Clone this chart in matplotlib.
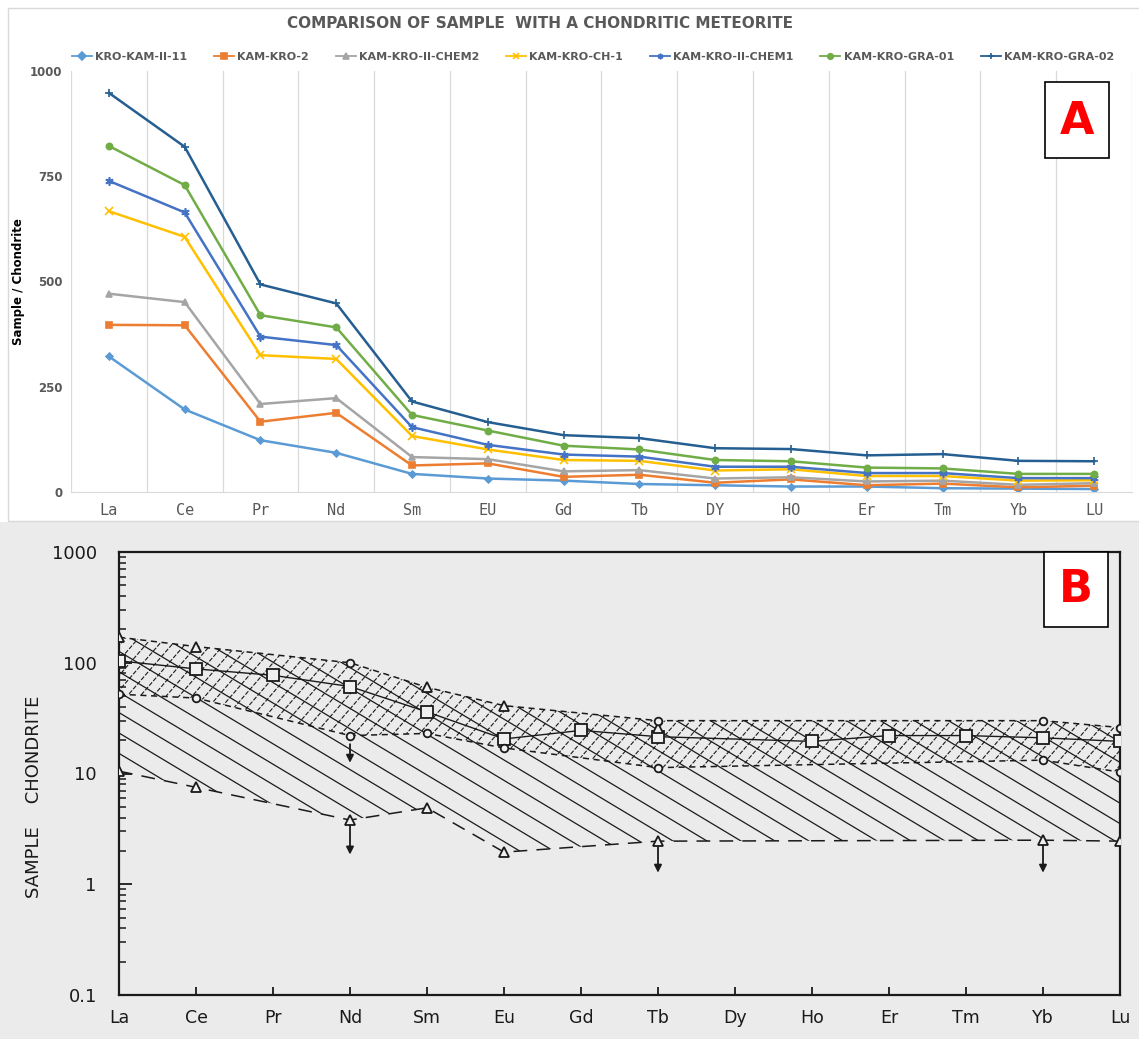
import numpy as np
import matplotlib
matplotlib.use("Agg")
import matplotlib.pyplot as plt
from matplotlib.patches import Rectangle, Polygon
from matplotlib.collections import LineCollection

# ---------------- Panel A data ----------------
elements_a = ['La', 'Ce', 'Pr', 'Nd', 'Sm', 'EU', 'Gd', 'Tb', 'DY', 'HO', 'Er', 'Tm', 'Yb', 'LU']
series_names = ['KRO-KAM-II-11', 'KAM-KRO-2', 'KAM-KRO-II-CHEM2', 'KAM-KRO-CH-1',
                'KAM-KRO-II-CHEM1', 'KAM-KRO-GRA-01', 'KAM-KRO-GRA-02']
kro_kam_ii_11 = [322, 196, 123, 93, 43, 32, 27, 19, 16, 13, 13, 9, 8, 7]
kam_kro_2 = [397, 396, 167, 188, 63, 68, 36, 41, 22, 30, 16, 20, 11, 15]
kam_kro_ii_chem2 = [471, 451, 209, 223, 83, 78, 49, 52, 32, 35, 25, 27, 17, 21]
kam_kro_ch_1 = [667, 606, 325, 316, 133, 101, 76, 74, 51, 54, 38, 38, 27, 28]
kam_kro_ii_chem1 = [739, 664, 369, 349, 154, 112, 89, 84, 60, 60, 45, 45, 33, 33]
kam_kro_gra_01 = [822, 729, 420, 391, 183, 146, 110, 101, 76, 73, 58, 56, 43, 43]
kam_kro_gra_02 = [948, 820, 493, 448, 215, 166, 135, 128, 104, 102, 87, 90, 74, 73]
a_yticks = [0, 250, 500, 750, 1000]

# ---------------- Panel B data ----------------
elements_b = ['La', 'Ce', 'Pr', 'Nd', 'Sm', 'Eu', 'Gd', 'Tb', 'Dy', 'Ho', 'Er', 'Tm', 'Yb', 'Lu']
N = None
upper_env = [170, 140, N, 100, 60, 41, N, 30, N, N, N, N, 30, 26]
lower_env = [52, 48, N, 22, 23, 17, N, 11.3, N, N, N, N, 13.2, 10.3]
squares = [104, 88, 77, 61, 36, 20.5, 24.5, 21.5, N, 19.5, 22, 22, 21, 19.5]
lower_tri = [10.5, 7.5, N, 3.8, 4.9, 1.95, N, 2.45, N, N, N, N, 2.5, 2.45]
upper_tri = [170, 140, N, N, 60, 41, N, 26, N, N, N, N, N, N]
upper_circ = [N, N, N, 100, N, N, N, 30, N, N, N, N, 30, 26]
lower_circ = [52, 48, N, 22, 23, 17, N, 11.3, N, N, N, N, 13.2, 10.3]
# arrows: (element index, start value, end value)
arrow_idx = [3, 3, 7, 12]
arrow_from = [3.6, 19.5, 2.3, 2.35]
arrow_to = [1.75, 11.8, 1.2, 1.2]
b_yticks = [0.1, 1, 10, 100, 1000]
b_yticklabels = ['0.1', '1', '10', '100', '1000']


def arr(v):
    return np.array([np.nan if x is None else x for x in v], dtype=float)


W_PX, H_PX = 1139, 1039
fig = plt.figure(figsize=(W_PX / 100, H_PX / 100), dpi=100)
fig.patch.set_facecolor('white')


def fx(px):
    return px / W_PX


def fy(py):
    return 1 - py / H_PX


# backgrounds
fig.patches.append(Rectangle((0, 0), 1, fy(522), transform=fig.transFigure,
                             facecolor='#ebebeb', edgecolor='none', zorder=-10))
fig.patches.append(Rectangle((fx(8), fy(521)), 1.2, (521 - 8) / H_PX, transform=fig.transFigure,
                             facecolor='white', edgecolor='#d9d9d9', lw=1.0, zorder=-9))

# ================= Panel A =================
axA = fig.add_axes([fx(71), fy(492), (1132 - 71) / W_PX, (492 - 71) / H_PX])
xa = np.arange(len(elements_a))
colors = ['#5B9BD5', '#ED7D31', '#A5A5A5', '#FFC000', '#4472C4', '#70AD47', '#255E91']
markers = ['D', 's', '^', 'x', (6, 2, 0), 'o', '+']
msizes = [3.5, 4.5, 4.5, 5.5, 6, 4.5, 6]
all_series = [kro_kam_ii_11, kam_kro_2, kam_kro_ii_chem2, kam_kro_ch_1,
              kam_kro_ii_chem1, kam_kro_gra_01, kam_kro_gra_02]
for vals, name, c, m, ms in zip(all_series, series_names, colors, markers, msizes):
    axA.plot(xa, vals, color=c, lw=1.8, marker=m, ms=ms, mew=1.2, mfc=c, mec=c, label=name)

axA.set_xlim(-0.5, 13.5)
axA.set_ylim(0, 1000)
axA.set_yticks(a_yticks)
axA.set_yticklabels([str(v) for v in a_yticks], fontsize=8.5, fontweight='bold', color='#595959')
axA.set_xticks(xa)
axA.set_xticklabels(elements_a, fontsize=11, color='#595959', fontfamily='DejaVu Sans Mono')
axA.set_xticks(np.arange(-0.5, 14, 1), minor=True)
axA.grid(True, which='minor', axis='x', color='#d9d9d9', lw=0.9)
axA.tick_params(which='both', length=0)
axA.tick_params(axis='x', pad=8)
axA.tick_params(axis='y', pad=6)
for s in ['top', 'right', 'left']:
    axA.spines[s].set_visible(False)
axA.spines['bottom'].set_color('#d9d9d9')
axA.set_ylabel('Sample / Chondrite', fontsize=8.5, fontweight='bold', color='black', labelpad=4)

fig.text(fx(540), fy(23), 'COMPARISON OF SAMPLE  WITH A CHONDRITIC METEORITE',
         ha='center', va='center', fontsize=11, fontweight='bold', color='#595959')
leg = axA.legend(loc='center', bbox_to_anchor=(fx(593), fy(57)), bbox_transform=fig.transFigure,
                 ncol=7, frameon=False, handlelength=1.8, handletextpad=0.3,
                 columnspacing=2.4, prop={'weight': 'bold', 'size': 8}, labelcolor='#595959')
for h in leg.legend_handles:
    h.set_markersize(4)
    h.set_linewidth(1.3)

fig.patches.append(Rectangle((fx(1045), fy(158)), 64 / W_PX, 76 / H_PX, transform=fig.transFigure,
                             facecolor='white', edgecolor='black', lw=1.2, zorder=5))
fig.text(fx(1077), fy(121), 'A', ha='center', va='center', fontsize=32, fontweight='bold',
         color='#ff0000', zorder=6)

# ================= Panel B =================
axB_left, axB_right, axB_top, axB_bot = 119, 1120, 552, 995
axB = fig.add_axes([fx(axB_left), fy(axB_bot), (axB_right - axB_left) / W_PX, (axB_bot - axB_top) / H_PX])
axB.patch.set_alpha(0)
axB.set_yscale('log')
axB.set_xlim(0, 13)
axB.set_ylim(0.1, 1000)
xb = np.arange(len(elements_b))

AW = axB_right - axB_left
AH = axB_bot - axB_top


def region_patch(x1, v1, x2, v2):
    m1 = ~np.isnan(v1)
    m2 = ~np.isnan(v2)
    top = list(zip(x1[m1], v1[m1]))
    bot = list(zip(x2[m2], v2[m2]))[::-1]
    p = Polygon(top + bot, closed=True, facecolor='none', edgecolor='none')
    axB.add_patch(p)
    return p


def hatch(patch, slope, spacing, lw, ls='solid'):
    # lines in pixel space of axes: y = slope * x + c
    segs = []
    cs = np.arange(-abs(slope) * AW - AH, AH + abs(slope) * AW + AH, abs(slope) * spacing)
    for c in cs:
        x0, x1 = -50, AW + 50
        segs.append([(x0 / AW, (slope * x0 + c) / AH), (x1 / AW, (slope * x1 + c) / AH)])
    lc = LineCollection(segs, colors='#1a1a1a', linewidths=lw, linestyles=ls,
                        transform=axB.transAxes, zorder=2)
    axB.add_collection(lc)
    lc.set_clip_path(patch)


U = arr(upper_env)
L = arr(lower_env)
LT = arr(lower_tri)
p_big = region_patch(xb, U, xb, LT)
hatch(p_big, -0.6, 34, 0.9)
p_band = region_patch(xb, U, xb, L)
hatch(p_band, 1.15, 13, 0.8, ls=(0, (4, 1.5)))


def plot_line(vals, **kw):
    v = arr(vals)
    m = ~np.isnan(v)
    axB.plot(xb[m], v[m], **kw)


plot_line(upper_env, color='#1a1a1a', lw=1.1, ls=(0, (4, 3)), zorder=3)
plot_line(lower_env, color='#1a1a1a', lw=1.1, ls=(0, (4, 3)), zorder=3)
plot_line(lower_tri, color='#1a1a1a', lw=1.1, ls=(0, (9, 6)), zorder=3)
plot_line(squares, color='#1a1a1a', lw=1.0, zorder=3)

mk = dict(ls='none', mfc='#f0f0f0', mec='#1a1a1a', mew=1.3, zorder=4)
plot_line(squares, marker='s', ms=9, **mk)
plot_line(upper_tri, marker='^', ms=7, **mk)
plot_line(lower_tri, marker='^', ms=7, **mk)
plot_line(upper_circ, marker='o', ms=5.5, **mk)
plot_line(lower_circ, marker='o', ms=5.5, **mk)

for i, a, b in zip(arrow_idx, arrow_from, arrow_to):
    axB.annotate('', xy=(xb[i], b), xytext=(xb[i], a),
                 arrowprops=dict(arrowstyle='-|>', color='#1a1a1a', lw=1.3, mutation_scale=11),
                 zorder=4)

axB.set_yticks(b_yticks)
axB.set_yticklabels(b_yticklabels, fontsize=13, color='#1a1a1a')
axB.set_xticks(xb)
axB.set_xticklabels(elements_b, fontsize=12.5, color='#1a1a1a')
axB.tick_params(which='major', direction='in', length=9, width=1.3, color='#1a1a1a')
axB.tick_params(axis='y', pad=16)
axB.tick_params(which='minor', direction='in', length=5, width=1.1, color='#1a1a1a')
axB.tick_params(axis='x', length=6, pad=10)
for s in axB.spines.values():
    s.set_linewidth(1.6)
    s.set_color('#1a1a1a')

fig.text(fx(34), fy(797), 'SAMPLE    CHONDRITE', rotation=90, ha='center', va='center',
         fontsize=13, color='#1a1a1a')

fig.patches.append(Rectangle((fx(1044), fy(627)), 64 / W_PX, 75 / H_PX, transform=fig.transFigure,
                             facecolor='white', edgecolor='black', lw=1.2, zorder=5))
fig.text(fx(1076), fy(590), 'B', ha='center', va='center', fontsize=32, fontweight='bold',
         color='#ff0000', zorder=6)

fig.savefig('out.png', dpi=100)
